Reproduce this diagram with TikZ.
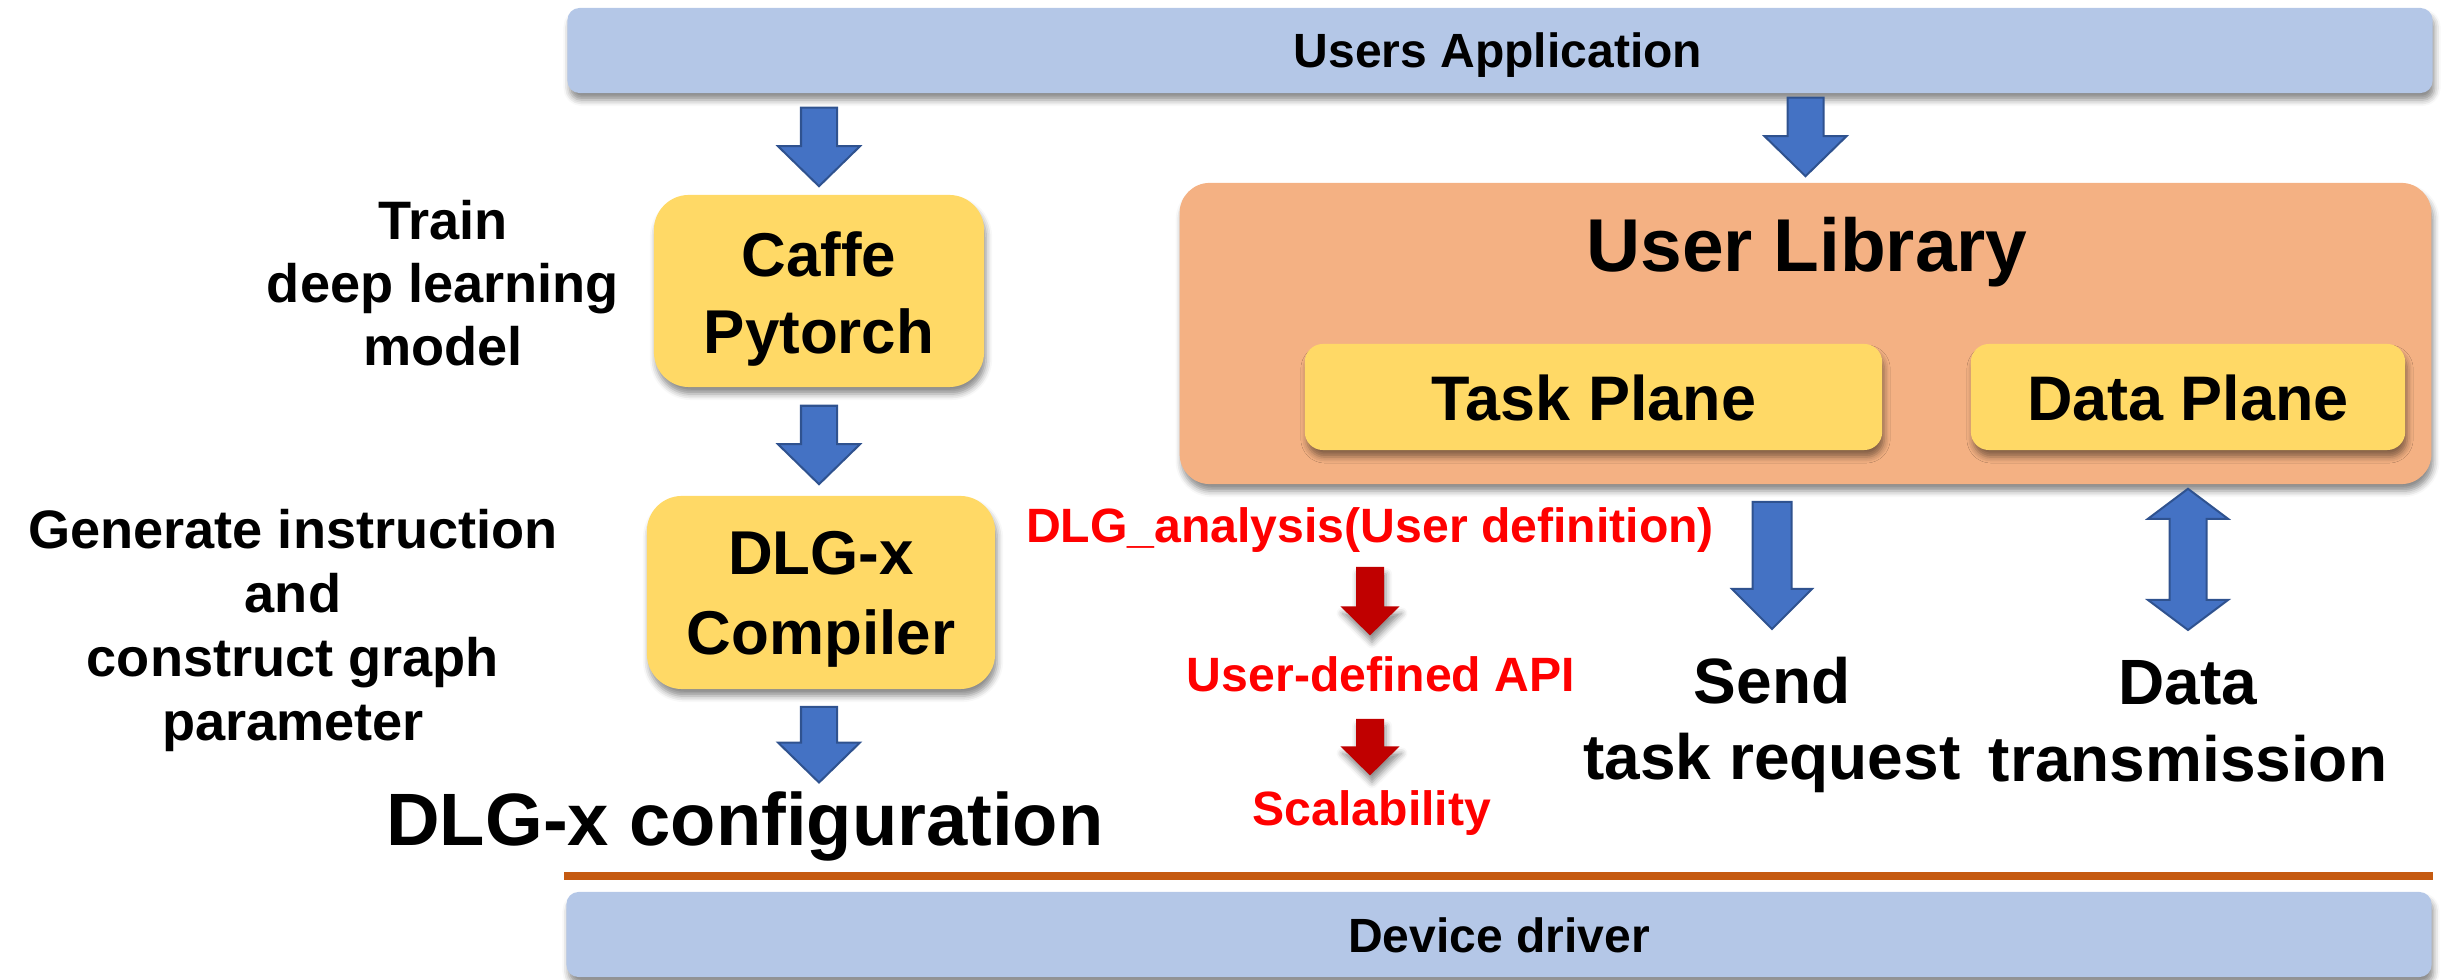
\documentclass[tikz,border=0pt]{standalone}
\usepackage{fontspec}
\setmainfont{Liberation Sans}
\usetikzlibrary{calc,shadows.blur}

\definecolor{barblue}{HTML}{B4C7E7}
\definecolor{boxyellow}{HTML}{FFD966}
\definecolor{liborange}{HTML}{F4B183}
\definecolor{arrblue}{HTML}{4472C4}
\definecolor{arrblueedge}{HTML}{2F528F}
\definecolor{arrred}{HTML}{C00000}
\definecolor{sepline}{HTML}{C55A11}

% bold text at a given size / line distance
\newcommand\fs[2]{\fontsize{#1}{#2}\selectfont\bfseries}

% downward block arrow: tail point #2, tip point #3
\newcommand\BlockDown[3][]{%
  \path[#1] let \p1=(#2), \p2=(#3) in
    (\x1-\aS,\y1) -- (\x1+\aS,\y1) -- (\x1+\aS,\y2+\aL) -- (\x1+\aH,\y2+\aL)
    -- (\x1,\y2) -- (\x1-\aH,\y2+\aL) -- (\x1-\aS,\y2+\aL) -- cycle;}
% two-headed vertical block arrow: upper tip #2, lower tip #3
\newcommand\BlockUpDown[3][]{%
  \path[#1] let \p1=(#2), \p2=(#3) in
    (\x1,\y1) -- (\x1+\aH,\y1-\aL) -- (\x1+\aS,\y1-\aL) -- (\x1+\aS,\y2+\aL)
    -- (\x1+\aH,\y2+\aL) -- (\x1,\y2) -- (\x1-\aH,\y2+\aL) -- (\x1-\aS,\y2+\aL)
    -- (\x1-\aS,\y1-\aL) -- (\x1-\aH,\y1-\aL) -- cycle;}

\tikzset{
  arrshaft/.code={\def\aS{#1}},
  arrhead/.code={\def\aH{#1}},
  arrlen/.code={\def\aL{#1}},
  soft/.style={blur shadow={shadow xshift=0.02cm, shadow yshift=-0.07cm,
      shadow blur radius=0.06cm, shadow opacity=45}},
  bar/.style={fill=barblue, rounded corners=0.12cm, minimum width=18.64cm,
      minimum height=0.85cm, inner sep=0pt, soft},
  ybox/.style={fill=boxyellow, inner sep=0pt, soft},
  txt/.style={inner sep=0pt, align=center, text=black},
  redtxt/.style={txt, text=red, font=\fs{13.7pt}{16pt}},
  bluearr/.style={fill=arrblue, draw=arrblueedge, line width=0.02cm,
      arrshaft=0.18cm, arrhead=0.41cm, arrlen=0.40cm},
  redarr/.style={fill=arrred, arrshaft=0.14cm, arrhead=0.295cm, arrlen=0.29cm, soft},
}

\begin{document}
\begin{tikzpicture}[x=0.01cm, y=-0.01cm]
\useasboundingbox (0,0) rectangle (2442,980);

% layer bars
\node[bar] (ua) at (1500,50.5) {};
\node[txt, anchor=base, font=\fs{13.66pt}{16pt}] (uaT) at (1498,68) {Users Application};
\node[bar] (dd) at (1499,934.5) {};
\node[txt, anchor=base, font=\fs{13.66pt}{16pt}] (ddT) at (1499,953) {Device driver};
\draw[sepline, line width=0.08cm] (564,876) -- (2433,876);

% framework and compiler
\node[ybox, rounded corners=0.35cm, minimum width=3.30cm, minimum height=1.92cm] (caffe) at (819,291) {};
\node[txt, anchor=north, font=\fs{17.6pt}{21.9pt}] (caffeT) at (819,231) {Caffe\\Pytorch};
\node[ybox, rounded corners=0.35cm, minimum width=3.48cm, minimum height=1.93cm] (comp) at (821,592.5) {};
\node[txt, anchor=north, font=\fs{17.6pt}{22.5pt}] (compT) at (821,531) {DLG-x\\Compiler};

% side notes
\node[txt, anchor=north, font=\fs{15.4pt}{17.9pt}] (trainT) at (443,200) {Train\\deep learning\\model};
\node[txt, anchor=north, font=\fs{15.4pt}{18.2pt}] (genT) at (293,509) {Generate instruction\\and\\construct graph\\parameter};
\node[txt, anchor=base, font=\fs{21.1pt}{25pt}] (cfg) at (745,846) {DLG-x configuration};

% user library
\node[fill=liborange, rounded corners=0.30cm, minimum width=12.51cm, minimum height=3.01cm, inner sep=0pt, soft] (lib) at (1805.5,333.5) {};
\node[txt, anchor=base, font=\fs{21.3pt}{25pt}] (libT) at (1807,272) {User Library};
\node[ybox, rounded corners=0.18cm, minimum width=5.77cm, minimum height=1.06cm] (task) at (1593.5,397) {};
\node[txt, anchor=base, font=\fs{17.9pt}{21pt}] (taskT) at (1594,421) {Task Plane};
\node[ybox, rounded corners=0.18cm, minimum width=4.34cm, minimum height=1.06cm] (data) at (2188,397) {};
\node[txt, anchor=base, font=\fs{17.9pt}{21pt}] (dataT) at (2188,421) {Data Plane};

% red annotations
\node[redtxt, anchor=base] (ana) at (1370,543) {DLG\_analysis(User definition)};
\node[redtxt, anchor=base] (api) at (1381,692) {User-defined API};
\node[redtxt, anchor=base] (scal) at (1372,826) {Scalability};

% library outputs
\node[txt, anchor=north, font=\fs{18.2pt}{21.6pt}] (send) at (1772,656) {Send\\task request};
\node[txt, anchor=north, font=\fs{18.2pt}{21.9pt}] (dtx) at (2188,660) {Data\\transmission};

% blue block arrows
\coordinate (a1t) at ($(ua.south -| caffe.north)+(0,14)$);
\coordinate (a1h) at ($(caffe.north)+(0,-8)$);
\BlockDown[bluearr]{a1t}{a1h}
\coordinate (a2t) at ($(ua.south -| lib.north)+(0,4)$);
\coordinate (a2h) at ($(lib.north)+(0,-6)$);
\BlockDown[bluearr]{a2t}{a2h}
\coordinate (a3t) at ($(caffe.south)+(0,18)$);
\coordinate (a3h) at ($(comp.north -| caffe)+(0,-11)$);
\BlockDown[bluearr]{a3t}{a3h}
\coordinate (a4t) at ($(comp.south -| caffe)+(0,17)$);
\coordinate (a4h) at ($(cfg.north -| caffe)+(0,-9)$);
\BlockDown[bluearr]{a4t}{a4h}
\coordinate (a5t) at ($(lib.south -| send)+(0,17)$);
\coordinate (a5h) at ($(send.north)+(0,-27)$);
\BlockDown[bluearr, arrshaft=0.195cm, arrhead=0.40cm]{a5t}{a5h}
\coordinate (a6t) at ($(lib.south -| dtx)+(0,4)$);
\coordinate (a6h) at ($(dtx.north)+(0,-30)$);
\BlockUpDown[bluearr, arrshaft=0.185cm, arrhead=0.40cm, arrlen=0.30cm]{a6t}{a6h}

% red block arrows
\coordinate (r1t) at ($(ana.base)+(0,24)$);
\coordinate (r1h) at ($(api.north -| ana)+(0,-21)$);
\BlockDown[redarr]{r1t}{r1h}
\coordinate (r2t) at ($(api.base -| ana)+(0,27)$);
\coordinate (r2h) at ($(scal.north -| ana)+(0,-15)$);
\BlockDown[redarr]{r2t}{r2h}
\end{tikzpicture}
\end{document}
